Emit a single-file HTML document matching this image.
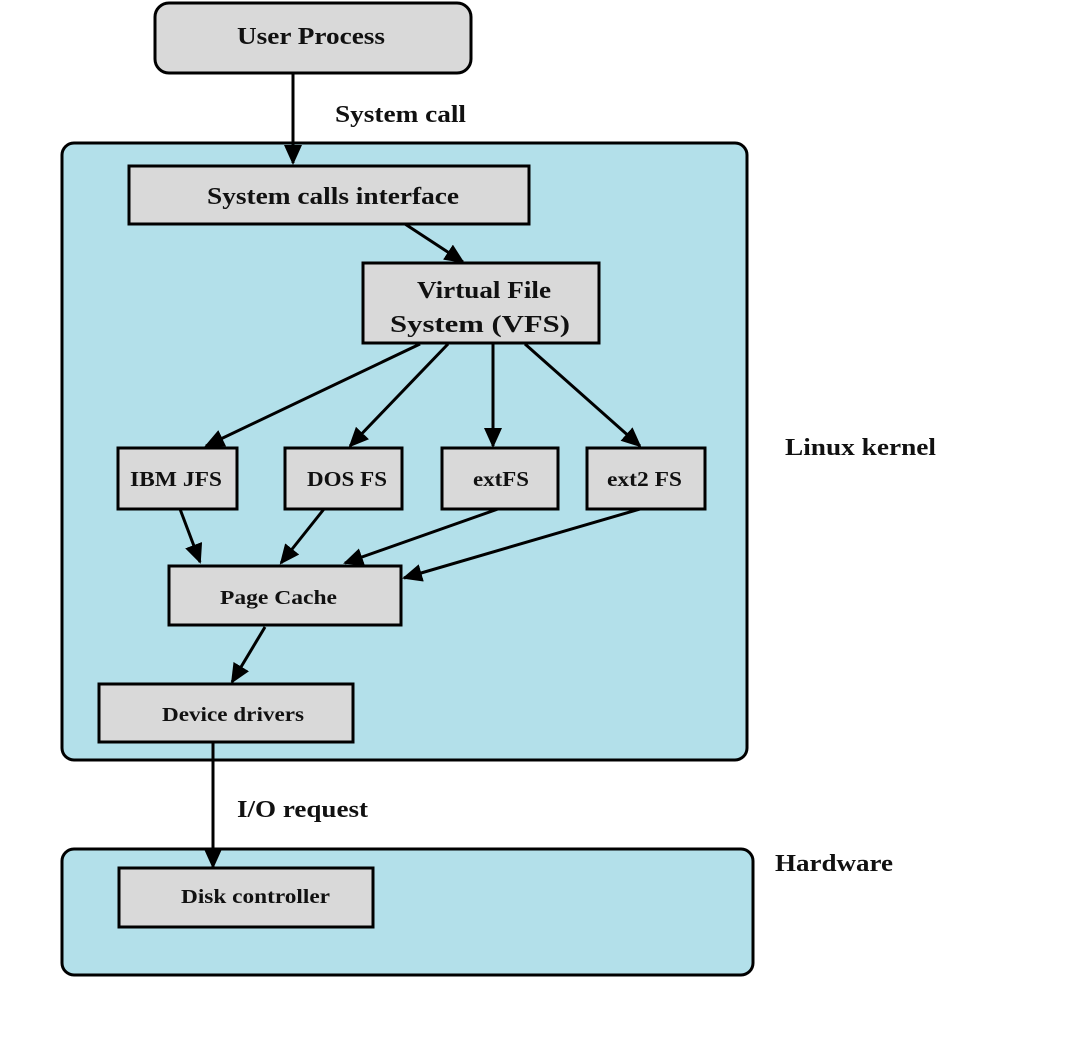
<!DOCTYPE html>
<html><head><meta charset="utf-8"><style>html,body{margin:0;padding:0;background:#fff}svg{display:block}</style></head><body>
<svg width="1066" height="1060" viewBox="0 0 1066 1060" xmlns="http://www.w3.org/2000/svg" font-family="Liberation Serif, serif" font-weight="bold">
<defs>
<marker id="b" markerWidth="20" markerHeight="18" refX="18" refY="9" orient="auto" markerUnits="userSpaceOnUse"><path d="M0,0 L20,9 L0,18 z" fill="#000"/></marker></defs>
<g stroke="#000" stroke-width="3">
<rect x="62" y="143" width="685" height="617" rx="12" fill="#b3e0ea"/>
<rect x="62" y="849" width="691" height="126" rx="12" fill="#b3e0ea"/>
<rect x="155" y="3" width="316" height="70" rx="14" fill="#d9d9d9"/>
<rect x="129" y="166" width="400" height="58" fill="#d9d9d9"/>
<rect x="363" y="263" width="236" height="80" fill="#d9d9d9"/>
<rect x="118" y="448" width="119" height="61" fill="#d9d9d9"/>
<rect x="285" y="448" width="117" height="61" fill="#d9d9d9"/>
<rect x="442" y="448" width="116" height="61" fill="#d9d9d9"/>
<rect x="587" y="448" width="118" height="61" fill="#d9d9d9"/>
<rect x="169" y="566" width="232" height="59" fill="#d9d9d9"/>
<rect x="99" y="684" width="254" height="58" fill="#d9d9d9"/>
<rect x="119" y="868" width="254" height="59" fill="#d9d9d9"/>
<g fill="none" marker-end="url(#b)">
<line x1="293" y1="73" x2="293" y2="163"/>
<line x1="405" y1="224" x2="463" y2="262"/>
<line x1="420" y1="344" x2="206" y2="446"/>
<line x1="448" y1="344" x2="350" y2="446"/>
<line x1="493" y1="344" x2="493" y2="446"/>
<line x1="525" y1="344" x2="640" y2="446"/>
<line x1="180" y1="509" x2="200" y2="562"/>
<line x1="324" y1="509" x2="281" y2="563"/>
<line x1="498" y1="509" x2="345" y2="563"/>
<line x1="640" y1="509" x2="404" y2="578"/>
<line x1="265" y1="627" x2="232" y2="682"/>
<line x1="213" y1="742" x2="213" y2="867"/>
</g></g>
<g fill="#111">
<text x="237" y="44" font-size="24" textLength="148" lengthAdjust="spacingAndGlyphs">User Process</text>
<text x="207" y="204" font-size="24" textLength="252" lengthAdjust="spacingAndGlyphs">System calls interface</text>
<text x="417" y="298" font-size="24" textLength="134" lengthAdjust="spacingAndGlyphs">Virtual File</text>
<text x="390" y="332" font-size="24" textLength="180" lengthAdjust="spacingAndGlyphs">System (VFS)</text>
<text x="130" y="486" font-size="21" textLength="92" lengthAdjust="spacingAndGlyphs">IBM JFS</text>
<text x="307" y="486" font-size="21" textLength="80" lengthAdjust="spacingAndGlyphs">DOS FS</text>
<text x="473" y="486" font-size="21" textLength="56" lengthAdjust="spacingAndGlyphs">extFS</text>
<text x="607" y="486" font-size="21" textLength="75" lengthAdjust="spacingAndGlyphs">ext2 FS</text>
<text x="220" y="604" font-size="20" textLength="117" lengthAdjust="spacingAndGlyphs">Page Cache</text>
<text x="162" y="721" font-size="20" textLength="142" lengthAdjust="spacingAndGlyphs">Device drivers</text>
<text x="181" y="903" font-size="20" textLength="149" lengthAdjust="spacingAndGlyphs">Disk controller</text>
<text x="335" y="122" font-size="24" textLength="131" lengthAdjust="spacingAndGlyphs">System call</text>
<text x="785" y="455" font-size="24" textLength="151" lengthAdjust="spacingAndGlyphs">Linux kernel</text>
<text x="775" y="871" font-size="24" textLength="118" lengthAdjust="spacingAndGlyphs">Hardware</text>
<text x="237" y="817" font-size="24" textLength="131" lengthAdjust="spacingAndGlyphs">I/O request</text>
</g>
</svg>
</body></html>
